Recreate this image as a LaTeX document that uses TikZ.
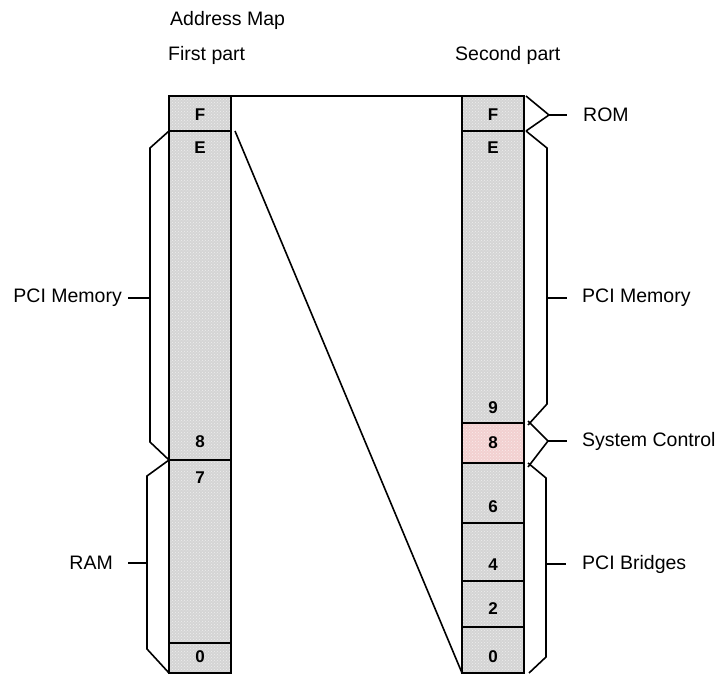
\documentclass[tikz,border=0pt]{standalone}
\usepackage{fontspec}
\setmainfont{Liberation Sans}
\usetikzlibrary{patterns}
\definecolor{cellgray}{RGB}{212,212,212}
\definecolor{cellpink}{RGB}{242,208,208}
\begin{document}
\begin{tikzpicture}[x=1pt,y=-1pt,
  cell/.style={draw=black, line width=1.6pt, minimum width=62pt, inner sep=0pt, outer sep=0pt,
    preaction={fill=#1}, pattern=crosshatch dots, pattern color=white!60!#1},
  cell/.default=cellgray,
  num/.style={font=\fontsize{17}{17}\selectfont\bfseries, inner sep=0pt},
  lab/.style={font=\fontsize{19.5}{19.5}\selectfont, inner sep=0pt},
  br/.style={line width=1.6pt, line join=miter}]
\useasboundingbox (0,0) rectangle (718,677);
% titles
\node[lab, anchor=west] (title) at (170,20) {Address Map};
\node[lab, anchor=west] (first) at (168,55) {First part};
\node[lab, anchor=west] (second) at (455,55) {Second part};
% left column
\node[cell, minimum height=35pt]  (lF) at (200,113.5) {};
\node[cell, minimum height=329pt] (lE) at (200,295.5) {};
\node[cell, minimum height=183pt] (l7) at (200,551.5) {};
\node[cell, minimum height=30pt]  (l0) at (200,658) {};
% right column
\node[cell, minimum height=35pt]  (rF) at (493,113.5) {};
\node[cell, minimum height=292pt] (rE) at (493,277) {};
\node[cell=cellpink, minimum height=40pt] (r8) at (493,443) {};
\node[cell, minimum height=60pt]  (r6) at (493,493) {};
\node[cell, minimum height=58pt]  (r4) at (493,552) {};
\node[cell, minimum height=46pt]  (r2) at (493,604) {};
\node[cell, minimum height=46pt]  (r0) at (493,650) {};
% numbers
\node[num] (nlF) at (200,115) {F};
\node[num] (nlE) at (200,148) {E};
\node[num] (nl8) at (200,442) {8};
\node[num] (nl7) at (200,478) {7};
\node[num] (nl0) at (200,657) {0};
\node[num] (nrF) at (493,115) {F};
\node[num] (nrE) at (493,148) {E};
\node[num] (nr9) at (493,408) {9};
\node[num] (nr8) at (493,443) {8};
\node[num] (nr6) at (493,507) {6};
\node[num] (nr4) at (493,565) {4};
\node[num] (nr2) at (493,609) {2};
\node[num] (nr0) at (493,657) {0};
% connectors between columns
\draw[line width=1.6pt] (lF.north east) -- (rF.north west);
\draw[line width=1.6pt] ([xshift=4pt]lF.south east) -- (r0.south west);
% left labels
\node[lab, anchor=east] (lpci) at (122,298) {PCI Memory};
\node[lab, anchor=east] (lram) at (113,563) {RAM};
\coordinate (tl1) at (128,298);
\coordinate (tl2) at (128,563);
% left brackets
\draw[br] (lE.north west) -- (150,148) -- (150,442) -- (lE.south west);
\draw[br] (150,298) -- (tl1);
\draw[br] (l7.north west) -- (147,476) -- (147,649) -- (l0.south west);
\draw[br] (147,563) -- (tl2);
% right labels
\node[lab, anchor=west] (rrom) at (583,115) {ROM};
\node[lab, anchor=west] (rpci) at (582,298) {PCI Memory};
\node[lab, anchor=west] (rsys) at (582,441) {System Control};
\node[lab, anchor=west] (rbr) at (582,564) {PCI Bridges};
\coordinate (tr1) at (567,115);
\coordinate (tr2) at (567,298);
\coordinate (tr3) at (567,441);
\coordinate (tr4) at (566,564);
% right brackets
\draw[br] ([xshift=2pt]rF.north east) -- (549,115) -- ([xshift=2pt]rF.south east);
\draw[br] (549,115) -- (tr1);
\draw[br] ([xshift=2pt]rE.north east) -- (547,148) -- (547,404) -- ([xshift=4pt,yshift=-2pt]rE.south east);
\draw[br] (547,298) -- (tr2);
\draw[br] ([xshift=4pt,yshift=2pt]r8.north east) -- (548,441) -- ([xshift=4pt,yshift=-4pt]r8.south east);
\draw[br] (548,441) -- (tr3);
\draw[br] ([xshift=4pt]r6.north east) -- (546,478) -- (546,657) -- ([xshift=5pt]r0.south east);
\draw[br] (546,564) -- (tr4);
\end{tikzpicture}
\end{document}
